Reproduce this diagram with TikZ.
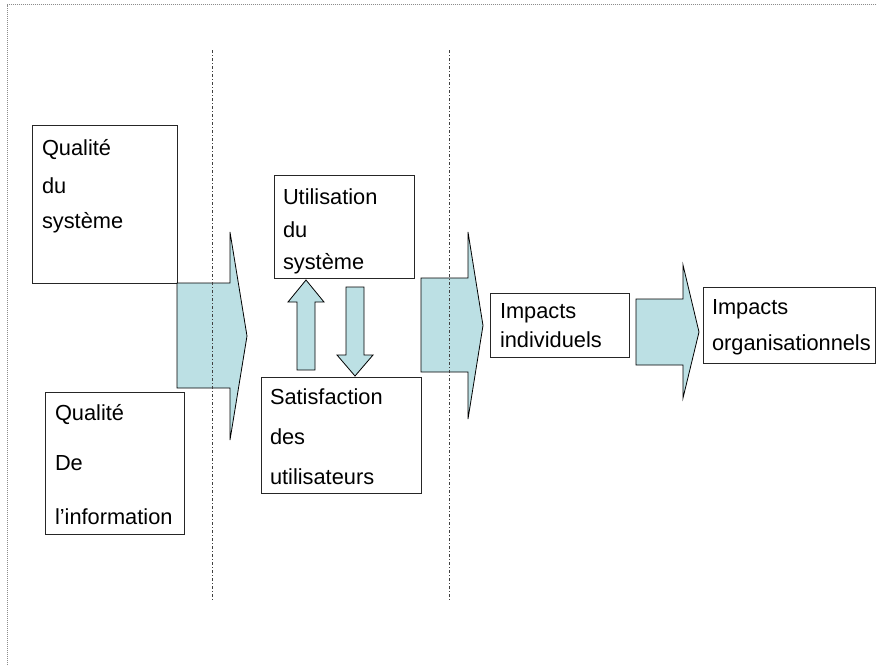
\documentclass[tikz,border=0pt]{standalone}
\usepackage{fontspec}
\setmainfont{Liberation Sans}
\definecolor{arrowfill}{RGB}{188,224,228}
\begin{document}
\begin{tikzpicture}[x=1pt,y=-1pt,
  box/.style={draw=black!85, line width=1pt, fill=white, inner sep=0pt, outer sep=0pt, anchor=north west},
  lbl/.style={anchor=base west, inner sep=0pt, outer sep=0pt, font=\fontsize{21.8}{25}\selectfont},
  blockarrow/.style={draw=black, line width=0.8pt, fill=arrowfill, line join=miter},
  divider/.style={draw=black!75, line width=0.8pt, dash pattern=on 3pt off 2pt on 1pt off 2pt},
  frame/.style={draw=black!45, line width=0.9pt, dash pattern=on 1pt off 1pt}]
\useasboundingbox (0,0) rectangle (877,665);

% outer dotted frame
\draw[frame] (7,665) -- (7,4.5) -- (877,4.5);

% boxes
\node[box, minimum width=145pt, minimum height=158pt] (qs) at (32,125) {};
\node[box, minimum width=139pt, minimum height=142pt] (qi) at (45,392) {};
\node[box, minimum width=140pt, minimum height=103pt] (us) at (274,175) {};
\node[box, minimum width=160pt, minimum height=116pt] (sat) at (261,377) {};
\node[box, minimum width=139pt, minimum height=64pt] (ii) at (490,293) {};
\node[box, minimum width=172pt, minimum height=76pt] (io) at (703,287) {};

% block arrows
\filldraw[blockarrow] (177,283) -- (230,283) -- (230,232) -- (247,336) -- (230,440) -- (230,388) -- (177,388) -- cycle;
\filldraw[blockarrow] (297,370) -- (297,302) -- (288,302) -- (306,280) -- (324,302) -- (315,302) -- (315,370) -- cycle;
\filldraw[blockarrow] (346,287) -- (364,287) -- (364,355) -- (373,355) -- (355,376) -- (337,355) -- (346,355) -- cycle;
\filldraw[blockarrow] (421,278) -- (468,278) -- (468,232) -- (483,325.5) -- (468,419) -- (468,372) -- (421,372) -- cycle;
\filldraw[blockarrow] (636,299) -- (683,299) -- (683,265) -- (699,332) -- (683,398) -- (683,365) -- (636,365) -- cycle;

% texts
\node[lbl] (qs1) at (42,155) {Qualité};
\node[lbl] (qs2) at (42,193) {du};
\node[lbl] (qs3) at (42,228) {système};

\node[lbl] (qi1) at (55,420) {Qualité};
\node[lbl] (qi2) at (55,470) {De};
\node[lbl] (qi3) at (55,524) {l’information};

\node[lbl] (us1) at (283,204) {Utilisation};
\node[lbl] (us2) at (283,237) {du};
\node[lbl] (us3) at (283,269) {système};

\node[lbl] (sat1) at (270,404) {Satisfaction};
\node[lbl] (sat2) at (270,444) {des};
\node[lbl] (sat3) at (270,484) {utilisateurs};

\node[lbl] (ii1) at (500,318) {Impacts};
\node[lbl] (ii2) at (500,347) {individuels};

\node[lbl] (io1) at (712,314) {Impacts};
\node[lbl] (io2) at (712,350) {organisationnels};

% dash-dot dividers
\coordinate (d1t) at (212,50);
\coordinate (d1b) at (212,600);
\coordinate (d2t) at (449,50);
\coordinate (d2b) at (449,600);
\draw[divider] (d1t) -- (d1b);
\draw[divider] (d2t) -- (d2b);
\end{tikzpicture}
\end{document}
